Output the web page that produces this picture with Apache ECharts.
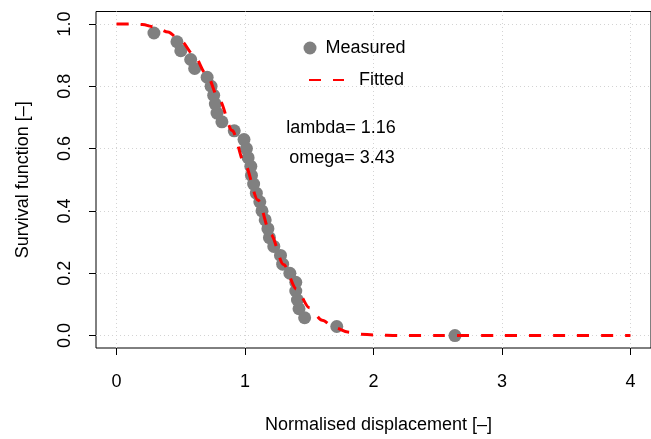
<!DOCTYPE html>
<html><head><meta charset="utf-8">
<script src="https://cdn.jsdelivr.net/npm/echarts@6/dist/echarts.min.js"></script>
<style>html,body{margin:0;padding:0;background:#fff}#c{width:651px;height:439px}</style>
</head><body><div id="c"></div>
<script>
// ---- data ----
const measuredX = [0.291, 0.470, 0.500, 0.577, 0.608, 0.705, 0.736, 0.756, 0.769, 0.782,
                   0.820, 0.916, 0.992, 1.011, 1.024, 1.045, 1.050, 1.067, 1.088, 1.115,
                   1.132, 1.157, 1.178, 1.190, 1.224, 1.276, 1.293, 1.349, 1.395, 1.395,
                   1.408, 1.420, 1.464, 1.714, 2.634];
const measuredY = [0.971, 0.943, 0.914, 0.886, 0.857, 0.829, 0.800, 0.771, 0.743, 0.714,
                   0.686, 0.657, 0.629, 0.600, 0.571, 0.543, 0.514, 0.486, 0.457, 0.429,
                   0.400, 0.371, 0.343, 0.314, 0.286, 0.257, 0.229, 0.200, 0.171, 0.143,
                   0.114, 0.086, 0.057, 0.029, 0.000];
const fittedX = [0.0, 0.1, 0.2, 0.3, 0.4, 0.5, 0.6, 0.7, 0.8, 0.9, 1.0, 1.1, 1.2, 1.3, 1.4,
                 1.5, 1.6, 1.7, 1.8, 1.9, 2.0, 2.2, 2.5, 3.0, 3.5, 4.0];
const fittedY = [1.000, 1.000, 0.998, 0.990, 0.974, 0.946, 0.901, 0.838, 0.756, 0.658, 0.548,
                 0.435, 0.325, 0.228, 0.149, 0.089, 0.049, 0.025, 0.011, 0.004, 0.002, 0.000,
                 0.000, 0.000, 0.000, 0.000];
const xTicks = [0, 1, 2, 3, 4];
const yTicks = [0, 0.2, 0.4, 0.6, 0.8, 1.0];
const xTitle = 'Normalised displacement [\u2013]';
const yTitle = 'Survival function [\u2013]';
const seriesNames = ['Measured', 'Fitted'];
const annotations = ['lambda= 1.16', 'omega= 3.43'];

const FONT = 'Liberation Sans, Arial, Helvetica, sans-serif';
const FS = 18;
const chart = echarts.init(document.getElementById('c'), null, {renderer: 'canvas'});

const measured = measuredX.map((x, i) => [x, measuredY[i]]);
const fitted = fittedX.map((x, i) => [x, fittedY[i]]);
const gridLines = xTicks.map(v => ({xAxis: v})).concat(yTicks.map(v => ({yAxis: v})));

chart.setOption({
  animation: false,
  backgroundColor: '#fff',
  textStyle: {fontFamily: FONT},
  grid: {left: 96, top: 11.5, width: 565, height: 339, show: true,
         borderColor: '#000', borderWidth: 1, backgroundColor: 'transparent'},
  xAxis: {
    type: 'value', min: -0.16, max: 4.16,
    axisLine: {show: false, onZero: false},
    splitLine: {show: false},
    axisTick: {show: true, inside: false, length: 7, customValues: xTicks,
               lineStyle: {color: '#000', width: 1}},
    axisLabel: {show: true, customValues: xTicks, margin: 25, fontSize: FS,
                color: '#000', fontFamily: FONT, formatter: v => String(Math.round(v))},
    name: xTitle, nameLocation: 'middle', nameGap: 68,
    nameTextStyle: {fontSize: FS, color: '#000', fontFamily: FONT, padding: [0, 0, 0, 10]}
  },
  yAxis: {
    type: 'value', min: -0.04, max: 1.04,
    axisLine: {show: false, onZero: false},
    splitLine: {show: false},
    axisTick: {show: true, inside: false, length: 7, customValues: yTicks,
               lineStyle: {color: '#000', width: 1}},
    axisLabel: {show: true, customValues: yTicks, rotate: 90, margin: 22, fontSize: FS,
                color: '#000', fontFamily: FONT, formatter: v => v.toFixed(1)},
    name: yTitle, nameLocation: 'middle', nameGap: 64, nameRotate: 90,
    nameTextStyle: {fontSize: FS, color: '#000', fontFamily: FONT}
  },
  legend: [
    {data: [seriesNames[0]], orient: 'vertical', left: 303.5, top: 39, padding: 0,
     itemWidth: 13, itemHeight: 13, selectedMode: false,
     textStyle: {fontSize: FS, color: '#000', fontFamily: FONT, padding: [0, 0, 0, 4]}},
    {data: [seriesNames[1]], orient: 'vertical', left: 308, top: 71, padding: 0,
     itemWidth: 35, itemHeight: 14, selectedMode: false,
     textStyle: {fontSize: FS, color: '#000', fontFamily: FONT, padding: [0, 0, 0, 10]}}
  ],
  graphic: [
    {type: 'text', x: 341, y: 128, z: 10,
     style: {text: annotations[0], font: FS + 'px ' + FONT, fill: '#000',
             align: 'center', verticalAlign: 'middle'}},
    {type: 'text', x: 342, y: 158, z: 10,
     style: {text: annotations[1], font: FS + 'px ' + FONT, fill: '#000',
             align: 'center', verticalAlign: 'middle'}}
  ],
  series: [
    {type: 'line', name: 'grid', data: [], silent: true, z: 1,
     markLine: {silent: true, symbol: 'none', animation: false, z: 1, zlevel: 0,
                label: {show: false},
                lineStyle: {type: [1, 3], color: '#d3d3d3', width: 1},
                emphasis: {disabled: true},
                data: gridLines}},
    {type: 'scatter', name: seriesNames[0], data: measured, z: 3,
     symbol: 'circle', symbolSize: 13,
     itemStyle: {color: '#808080', opacity: 1}},
    {type: 'line', name: seriesNames[1], data: fitted, z: 4,
     symbol: 'circle', showSymbol: false, smooth: 0.3, smoothMonotone: 'x',
     lineStyle: {color: '#ff0000', width: 3, type: [12, 12]},
     itemStyle: {color: 'rgba(0,0,0,0)', borderWidth: 0}}
  ]
});
</script></body></html>
